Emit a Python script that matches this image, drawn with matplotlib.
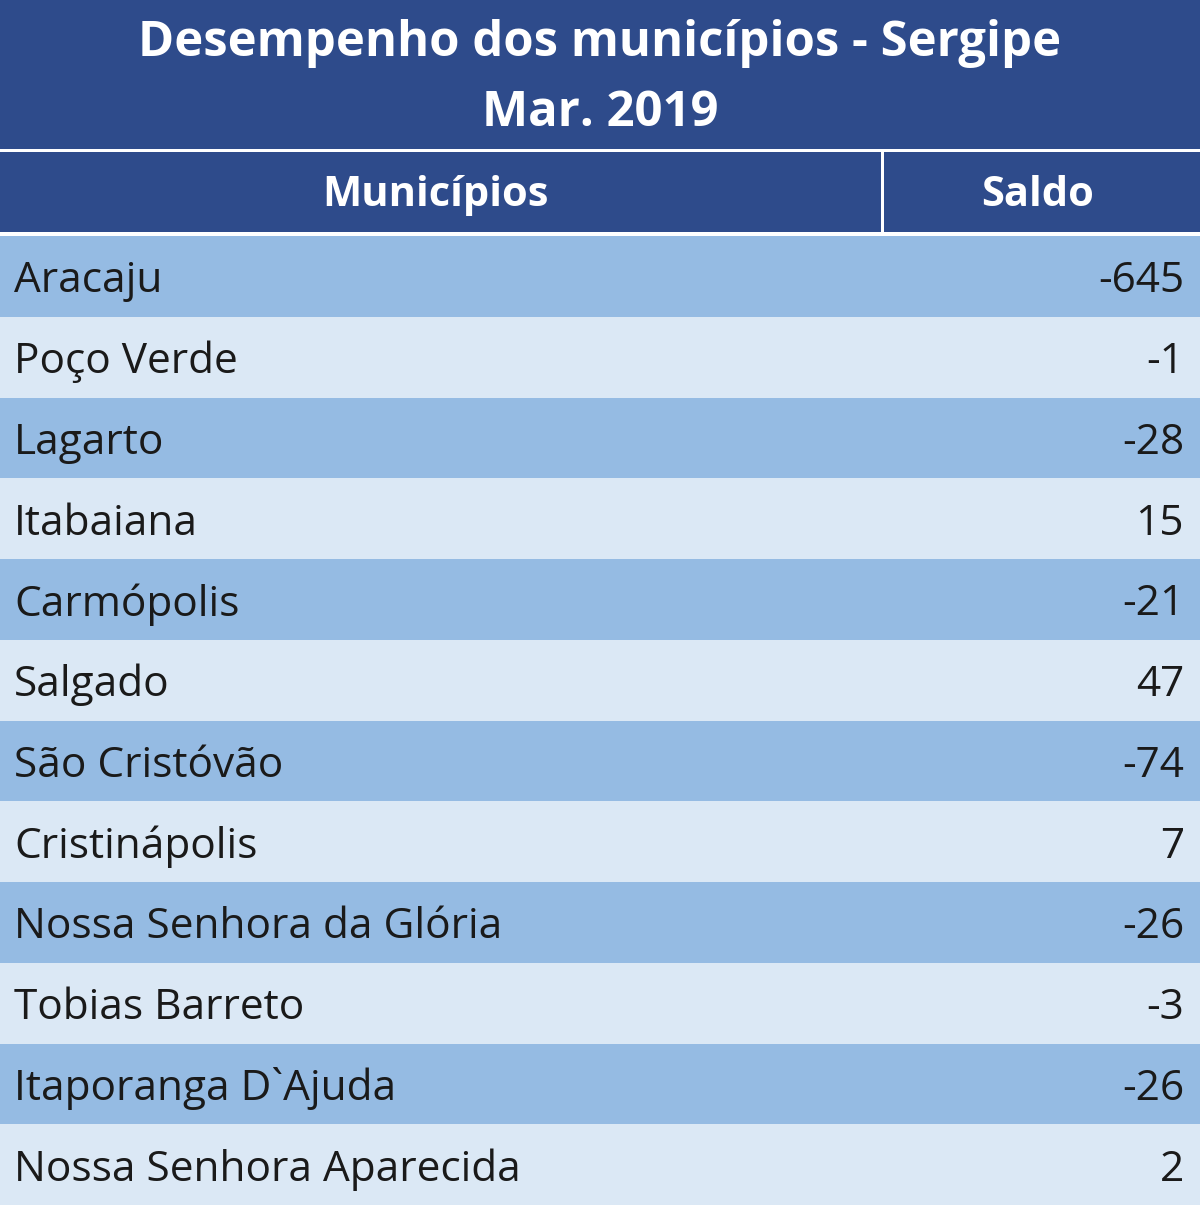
import matplotlib.pyplot as plt
import matplotlib.patches as patches

title_lines = ["Desempenho dos municípios - Sergipe", "Mar. 2019"]
headers = ["Municípios", "Saldo"]
municipios = ["Aracaju", "Poço Verde", "Lagarto", "Itabaiana", "Carmópolis", "Salgado",
              "São Cristóvão", "Cristinápolis", "Nossa Senhora da Glória", "Tobias Barreto",
              "Itaporanga D`Ajuda", "Nossa Senhora Aparecida"]
saldo = [-645, -1, -28, 15, -21, 47, -74, 7, -26, -3, -26, 2]

dark = "#2E4B8B"
row_a = "#95BBE3"
row_b = "#DBE8F5"
font = "Open Sans"

W, H = 1200, 1205
fig = plt.figure(figsize=(W / 100, H / 100), dpi=100)
ax = fig.add_axes([0, 0, 1, 1])
ax.set_xlim(0, W)
ax.set_ylim(H, 0)
ax.axis("off")

# faixa do título
ax.add_patch(patches.Rectangle((0, 0), W, 149, color=dark, lw=0))
ax.text(W / 2, 43, title_lines[0], ha="center", va="center", color="white",
        fontsize=35.3, fontweight="bold", family=font)
ax.text(W / 2, 113, title_lines[1], ha="center", va="center", color="white",
        fontsize=35.3, fontweight="bold", family=font)

# cabeçalho
ax.add_patch(patches.Rectangle((0, 152), 881, 80, color=dark, lw=0))
ax.add_patch(patches.Rectangle((884, 152), W - 884, 80, color=dark, lw=0))
ax.text(435, 196, headers[0], ha="center", va="center", color="white",
        fontsize=30, fontweight="bold", family=font)
ax.text(1038, 196, headers[1], ha="center", va="center", color="white",
        fontsize=30, fontweight="bold", family=font)

# linhas
top = 236
rh = (H - top) / len(municipios)
for i, (nome, val) in enumerate(zip(municipios, saldo)):
    y = top + i * rh
    ax.add_patch(patches.Rectangle((0, y), W, rh, color=row_a if i % 2 == 0 else row_b, lw=0))
    ax.text(14, y + rh / 2 + 5, nome, ha="left", va="center", color="#1a1a1a",
            fontsize=30.5, family=font)
    ax.text(1184, y + rh / 2 + 5, str(val), ha="right", va="center", color="#1a1a1a",
            fontsize=30.5, family=font)

fig.savefig("out.png", dpi=100)
